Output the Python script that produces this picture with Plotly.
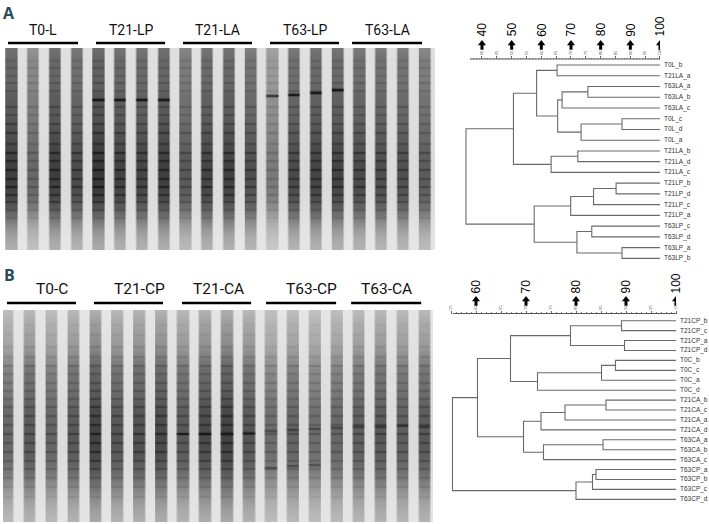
import numpy as np
import plotly.graph_objects as go

W, H = 709, 524

# ----------------------------- data -----------------------------
groups_A = ["T0-L", "T21-LP", "T21-LA", "T63-LP", "T63-LA"]
groups_B = ["T0-C", "T21-CP", "T21-CA", "T63-CP", "T63-CA"]

# relative darkness of each of the 20 gel lanes
lane_dark_A = [0.90, 0.62, 0.90, 0.82, 0.95, 0.88, 0.86, 0.90, 0.72, 0.86,
               0.88, 0.78, 0.50, 0.82, 0.86, 0.86, 0.82, 0.80, 0.78, 0.70]
lane_dark_B = [0.64, 0.74, 0.66, 0.74, 0.90, 0.76, 0.80, 0.84, 0.74, 0.84,
               0.90, 0.76, 0.60, 0.66, 0.60, 0.64, 0.70, 0.74, 0.70, 0.74]

# darkness profile down the gel, one value every 10 px
profile_A = [0.50, 0.55, 0.56, 0.56, 0.58, 0.62, 0.63, 0.64, 0.68, 0.70, 0.74,
             0.76, 0.78, 0.78, 0.76, 0.72, 0.62, 0.48, 0.36, 0.28, 0.24]
profile_B = [0.24, 0.30, 0.34, 0.37, 0.42, 0.50, 0.57, 0.60, 0.62, 0.67, 0.72,
             0.74, 0.76, 0.76, 0.74, 0.70, 0.64, 0.54, 0.45, 0.37, 0.31, 0.27]

# common band rows (px from top of gel) and their strength
bands_A_y = [12, 19, 27, 34, 42, 58, 66, 75, 84, 95, 104, 112, 121, 130, 138, 146, 153, 161, 169]
bands_A_s = [0.10, 0.14, 0.12, 0.16, 0.14, 0.18, 0.15, 0.18, 0.20, 0.15, 0.22,
             0.18, 0.20, 0.18, 0.22, 0.20, 0.18, 0.15, 0.12]
bands_B_y = [14, 24, 36, 46, 55, 63, 72, 80, 88, 96, 105, 114, 123, 132, 141, 150, 158, 167, 176, 186]
bands_B_s = [0.08, 0.10, 0.12, 0.14, 0.22, 0.15, 0.17, 0.19, 0.17, 0.19, 0.21,
             0.19, 0.24, 0.19, 0.21, 0.19, 0.18, 0.16, 0.13, 0.11]

# distinct strong bands: lane, row (px from top of gel), strength
strong_A_lane = [4, 5, 6, 7, 12, 13, 14, 15]
strong_A_y = [51, 51, 51, 51, 47, 46, 44, 41]
strong_A_s = [0.50, 0.60, 0.55, 0.60, 0.50, 0.50, 0.50, 0.55]
strong_B_lane = [8, 9, 10, 11, 12, 13, 14, 15, 16, 17, 18, 19, 12, 13, 14]
strong_B_y = [123, 123, 123, 122, 120, 119, 118, 117, 116, 116, 115, 116, 157, 155, 154]
strong_B_s = [0.20, 0.22, 0.22, 0.20, 0.20, 0.22, 0.22, 0.20, 0.20, 0.20, 0.20, 0.20, 0.22, 0.22, 0.22]

# dendrograms: leaf order and merges (child, child, % similarity)
leaves_A = ["T0L_b", "T21LA_a", "T63LA_a", "T63LA_b", "T63LA_c", "T0L_c", "T0L_d",
            "T0L_a", "T21LA_b", "T21LA_d", "T21LA_c", "T21LP_b", "T21LP_d",
            "T21LP_c", "T21LP_a", "T63LP_c", "T63LP_d", "T63LP_a", "T63LP_b"]
merges_A = [
    ("T0L_b", "T21LA_a", 65.3),   # 0
    ("T63LA_a", "T63LA_b", 75.7), # 1
    (1, "T63LA_c", 67.0),         # 2
    ("T0L_c", "T0L_d", 87.2),     # 3
    (3, "T0L_a", 73.4),           # 4
    (2, 4, 65.5),                 # 5
    (0, 5, 58.4),                 # 6
    ("T21LA_b", "T21LA_d", 72.3), # 7
    (7, "T21LA_c", 63.3),         # 8
    (6, 8, 50.6),                 # 9
    ("T21LP_b", "T21LP_d", 85.2), # 10
    (10, "T21LP_c", 77.6),        # 11
    (11, "T21LP_a", 69.9),        # 12
    ("T63LP_c", "T63LP_d", 77.0), # 13
    ("T63LP_a", "T63LP_b", 87.2), # 14
    (13, 14, 72.0),               # 15
    (12, 15, 57.6),               # 16
    (9, 16, 34.6),                # 17
]
leaves_B = ["T21CP_b", "T21CP_c", "T21CP_a", "T21CP_d", "T0C_b", "T0C_c", "T0C_a",
            "T0C_d", "T21CA_b", "T21CA_c", "T21CA_a", "T21CA_d", "T63CA_a",
            "T63CA_b", "T63CA_c", "T63CP_a", "T63CP_b", "T63CP_c", "T63CP_d"]
merges_B = [
    ("T21CP_b", "T21CP_c", 89.1), # 0
    ("T21CP_a", "T21CP_d", 89.7), # 1
    (0, 1, 78.9),                 # 2
    ("T0C_b", "T0C_c", 87.9),     # 3
    (3, "T0C_a", 85.1),           # 4
    (4, "T0C_d", 72.3),           # 5
    (2, 5, 66.9),                 # 6
    ("T21CA_b", "T21CA_c", 86.0), # 7
    (7, "T21CA_a", 77.8),         # 8
    (8, "T21CA_d", 73.0),         # 9
    ("T63CA_a", "T63CA_b", 85.4), # 10
    (10, "T63CA_c", 73.5),        # 11
    (9, 11, 69.5),                # 12
    (6, 12, 60.3),                # 13
    ("T63CP_a", "T63CP_b", 84.0), # 14
    (14, "T63CP_c", 83.3),        # 15
    (15, "T63CP_d", 80.0),        # 16
    (13, 16, 55.3),               # 17
]
scale_A_major = [40, 50, 60, 70, 80, 90, 100]
scale_B_major = [60, 70, 80, 90, 100]

# ----------------------------- helpers -----------------------------
def xdom(a, b):
    return [a / W, b / W]

def ydom(top, bottom):
    return [1 - bottom / H, 1 - top / H]

def py(px):
    return 1 - px / H

fig = go.Figure()

# ---------- gels ----------
def gel_z(lane_dark, profile, by, bs, sl, sy, ss, xr, height):
    xs = np.arange(xr[0] + 0.02, xr[1], 0.04)
    ys = np.arange(0.5, height, 1.0)
    idx = np.clip(np.round(xs), 0, len(lane_dark) - 1).astype(int)
    d = np.abs(xs - idx)
    mask = np.clip((0.31 - d) / 0.08, 0, 1)
    prof = np.interp(ys, np.arange(len(profile)) * 10.0, profile)
    band = np.zeros_like(ys)
    for y0, s in zip(by, bs):
        band += s * np.exp(-((ys - y0) / 1.1) ** 2)
    fade = prof / max(profile)
    rows = prof + band * fade
    base = 0.04 + 0.06 * fade
    z = base[:, None] + mask[None, :] * np.array(lane_dark)[idx][None, :] * rows[:, None]
    for ln, y0, s in zip(sl, sy, ss):
        col = (idx == ln) * mask
        z += s * np.exp(-((ys - y0) / 1.3) ** 2)[:, None] * col[None, :]
    return xs, ys, np.round(np.clip(z, 0, 1), 3)

gel_scale = [[0, "#f4f4f4"], [0.5, "#767676"], [1, "#1a1a1a"]]

xrA = [-0.276, 19.5]
xsA, ysA, zA = gel_z(lane_dark_A, profile_A, bands_A_y, bands_A_s,
                     strong_A_lane, strong_A_y, strong_A_s, xrA, 202)
fig.add_trace(go.Heatmap(x=xsA, y=ysA, z=zA, colorscale=gel_scale, zmin=0, zmax=1,
                         showscale=False, hoverinfo="skip", zsmooth="best",
                         xaxis="x", yaxis="y"))
xrB = [-0.18, 19.4]
xsB, ysB, zB = gel_z(lane_dark_B, profile_B, bands_B_y, bands_B_s,
                     strong_B_lane, strong_B_y, strong_B_s, xrB, 212)
fig.add_trace(go.Heatmap(x=xsB, y=ysB, z=zB, colorscale=gel_scale, zmin=0, zmax=1,
                         showscale=False, hoverinfo="skip", zsmooth="best",
                         xaxis="x2", yaxis="y2"))

# ---------- dendrograms ----------
def dendro(leaves, merges, xa, ya):
    pos = {n: (100.0, float(i)) for i, n in enumerate(leaves)}
    X, Y = [], []
    for k, (a, b, s) in enumerate(merges):
        xa_, ya_ = pos[a]
        xb_, yb_ = pos[b]
        X += [xa_, s, s, xb_, None]
        Y += [ya_, ya_, yb_, yb_, None]
        pos[k] = (s, (ya_ + yb_) / 2)
    fig.add_trace(go.Scatter(x=X, y=Y, mode="lines", line=dict(color="#6a6a6a", width=1.1),
                             hoverinfo="skip", xaxis=xa, yaxis=ya))
    for i, n in enumerate(leaves):
        fig.add_annotation(x=100, y=i, xref=xa, yref=ya, text=n, showarrow=False,
                           xanchor="left", yanchor="middle", xshift=2,
                           font=dict(family="Liberation Sans", size=6.5, color="#333"))

dendro(leaves_A, merges_A, "x3", "y3")
dendro(leaves_B, merges_B, "x4", "y4")

# dendrogram geometry: leaf 0 position and step in px
stepA, leaf0A = 10.74, 65.0
def idxA(px): return (px - leaf0A) / stepA
stepB, leaf0B = 9.92, 320.7
def idxB(px): return (px - leaf0B) / stepB

def scale_marks(major, xa, ya, conv, arrow_px, label_px):
    fig.add_trace(go.Scatter(x=major, y=[conv(arrow_px - 1.5)] * len(major), mode="markers",
                             marker=dict(symbol="triangle-up", size=7, color="black"),
                             hoverinfo="skip", xaxis=xa, yaxis=ya))
    fig.add_trace(go.Scatter(x=major, y=[conv(arrow_px + 2)] * len(major), mode="markers",
                             marker=dict(symbol="line-ns", size=4, line=dict(width=3, color="black")),
                             hoverinfo="skip", xaxis=xa, yaxis=ya))
    for v in major:
        fig.add_annotation(x=v, y=conv(label_px), xref=xa, yref=ya, text=str(v),
                           textangle=-90, showarrow=False, xanchor="center", yanchor="bottom",
                           font=dict(family="Liberation Sans", size=12, color="black"))

scale_marks(scale_A_major, "x3", "y3", idxA, 45, 38.5)
scale_marks(scale_B_major, "x4", "y4", idxB, 301, 295.5)

# scale lines
fig.add_shape(type="line", xref="x3", yref="y3", x0=36, x1=100, y0=idxA(59), y1=idxA(59),
              line=dict(color="#555", width=1))
fig.add_shape(type="line", xref="x4", yref="y4", x0=55.4, x1=100, y0=idxB(313.5), y1=idxB(313.5),
              line=dict(color="#555", width=1))

# ---------- headers ----------
spA, c0A = 21.74, 11.0
spB, c0B = 21.95, 7.0
def laneA(px): return (px - c0A) / spA
def laneB(px): return (px - c0B) / spB

hdrA_text_px = [43, 130.5, 217.5, 304.5, 387]
hdrA_line_px = [(8, 78), (96, 165), (183, 252), (270, 339), (352, 422)]
for g, tx, (l0, l1) in zip(groups_A, hdrA_text_px, hdrA_line_px):
    fig.add_annotation(x=laneA(tx), y=py(30), xref="x", yref="paper", text=g, showarrow=False,
                       xanchor="center", yanchor="middle",
                       font=dict(family="Roboto", size=14, color="#111"))
    fig.add_shape(type="line", xref="x", yref="paper", x0=laneA(l0), x1=laneA(l1),
                  y0=py(43), y1=py(43), line=dict(color="black", width=2.6))

hdrB_text_px = [52, 139, 218, 311, 386.5]
hdrB_line_px = [(7, 76), (94, 163), (182, 251), (266, 336), (351, 421)]
for g, tx, (l0, l1) in zip(groups_B, hdrB_text_px, hdrB_line_px):
    fig.add_annotation(x=laneB(tx), y=py(289), xref="x2", yref="paper", text=g, showarrow=False,
                       xanchor="center", yanchor="middle",
                       font=dict(family="Roboto", size=15.5, color="#111"))
    fig.add_shape(type="line", xref="x2", yref="paper", x0=laneB(l0), x1=laneB(l1),
                  y0=py(303), y1=py(303), line=dict(color="black", width=2.6))

for lab, x, y in [("A", 9, 13), ("B", 9, 275)]:
    fig.add_annotation(x=x / W, y=py(y), xref="paper", yref="paper", text="<b>%s</b>" % lab,
                       showarrow=False, xanchor="center", yanchor="middle",
                       font=dict(family="Open Sans", size=16, color="#2b4a58"))

# ---------- axes ----------
hidden = dict(visible=False, showgrid=False, zeroline=False, fixedrange=True, automargin=False)
layout_axes = dict(
    xaxis=dict(domain=xdom(5, 435), range=xrA, anchor="y", **hidden),
    yaxis=dict(domain=ydom(48, 250), range=[202, 0], anchor="x", **hidden),
    xaxis2=dict(domain=xdom(3, 433), range=xrB, anchor="y2", **hidden),
    yaxis2=dict(domain=ydom(310, 522), range=[212, 0], anchor="x2", **hidden),
)
def dendro_x(rng, dom, pos_px, major_vals, minor_vals):
    return dict(domain=dom, range=rng, anchor="free", position=py(pos_px), side="top",
                showgrid=False, zeroline=False, showline=False, automargin=False,
                ticks="outside", ticklen=3, tickwidth=0.8, tickcolor="#666",
                tickmode="array", tickvals=major_vals, ticktext=[str(v) for v in major_vals],
                tickangle=-90, tickfont=dict(family="Liberation Sans", size=4, color="#555"),
                minor=dict(tickmode="array", tickvals=minor_vals, ticks="outside", ticklen=1.5,
                           tickcolor="#888", tickwidth=0.6),
                fixedrange=True)

pxA = 2.967
layout_axes["xaxis3"] = dendro_x([34, 100], xdom(482 - 6 * pxA, 660), 59,
                                 list(range(40, 101, 5)), list(range(36, 101)))
layout_axes["yaxis3"] = dict(domain=ydom(18, 263.7), range=[18.5, idxA(18)], anchor="x3", **hidden)
layout_axes["xaxis4"] = dendro_x([54.5, 100], xdom(476 - 5.5 * 5.0, 676), 313.5,
                                 list(range(55, 101, 5)), list(range(56, 101)))
layout_axes["yaxis4"] = dict(domain=ydom(274, 504.3), range=[18.5, idxB(274)], anchor="x4", **hidden)

fig.update_layout(template="none", width=W, height=H, margin=dict(l=0, r=0, t=0, b=0, pad=0),
                  paper_bgcolor="white", plot_bgcolor="rgba(0,0,0,0)", showlegend=False,
                  **layout_axes)

fig.write_html("out.html", config={"displayModeBar": False},
               post_script="document.body.style.margin='0px';")
